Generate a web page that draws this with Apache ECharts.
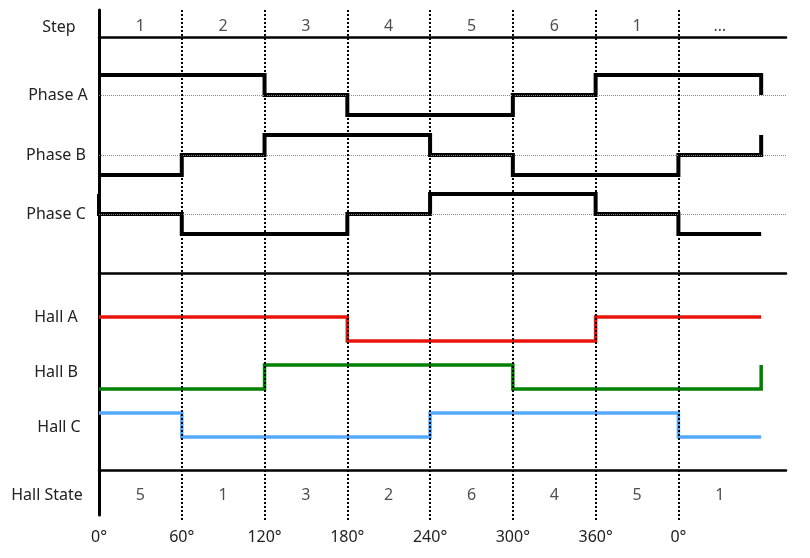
<!DOCTYPE html>
<html>
<head>
<meta charset="utf-8">
<script src="https://cdn.jsdelivr.net/npm/echarts@6/dist/echarts.min.js"></script>
<style>html,body{margin:0;padding:0;background:#fff}#c{width:810px;height:558px}</style>
</head>
<body>
<div id="c"></div>
<script>
// ---- data ----
const degrees = [0, 60, 120, 180, 240, 300, 360, 420, 480];
const tickLabels = ['0°', '60°', '120°', '180°', '240°', '300°', '360°', '0°', ''];
const steps = ['1', '2', '3', '4', '5', '6', '1', '…'];
const hallStates = ['5', '1', '3', '2', '6', '4', '5', '1'];
const rowLabels = ['Step', 'Phase A', 'Phase B', 'Phase C', 'Hall A', 'Hall B', 'Hall C', 'Hall State'];
const dividers = [60, 120, 180, 240, 300, 360, 420];
// level held from each boundary to the next; the last value is the level after the final edge
const phaseA = [1, 1, 0, -1, -1, 0, 1, 1, 0];
const phaseB = [-1, 0, 1, 1, 0, -1, -1, 0, 1];
const phaseCStart = 1;
const phaseC = [0, -1, -1, 0, 1, 1, 0, -1, -1];
const hallA = [1, 1, 1, 0, 0, 0, 1, 1, 1];
const hallB = [0, 0, 1, 1, 1, 0, 0, 0, 1];
const hallC = [1, 0, 0, 0, 1, 1, 1, 0, 0];

// ---- layout ----
const FONT = 'Noto Sans';
const FS = 16;
const XMAX = 498;
const L = 99, R = 24;
const grids = [
  { left: L, right: R, top: 10, bottom: 38 },      // 0 frame
  { left: L, right: R, top: 10, height: 27 },      // 1 step row
  { left: L, right: R, top: 37, height: 236 },     // 2 phase section
  { left: L, right: R, top: 273, height: 197 },    // 3 hall section
  { left: L, right: R, top: 470, height: 45 },     // 4 hall state row
  { left: L, right: R, top: 65, height: 60 },      // 5 phase A
  { left: L, right: R, top: 125, height: 60 },     // 6 phase B
  { left: L, right: R, top: 184, height: 60 },     // 7 phase C
  { left: L, right: R, top: 305, height: 48 },     // 8 hall A
  { left: L, right: R, top: 353, height: 48 },     // 9 hall B
  { left: L, right: R, top: 401, height: 48 }      // 10 hall C
];
const black = '#000';
const xAxes = grids.map((g, i) => ({
  type: 'value', gridIndex: i, min: 0, max: XMAX, interval: 60,
  show: true,
  axisLine: { show: i >= 1 && i <= 3, onZero: false, lineStyle: { color: black, width: 2.5 } },
  axisTick: { show: false },
  splitLine: { show: false },
  axisLabel: {
    show: i === 0, margin: 9, color: '#222', fontFamily: FONT, fontSize: FS,
    formatter: v => { const k = degrees.indexOf(v); return k >= 0 ? tickLabels[k] : ''; }
  }
}));
const yAxes = grids.map((g, i) => {
  let min = 0, max = 1;
  if (i >= 5 && i <= 7) { min = -1.5; max = 1.5; }
  if (i >= 8) { min = -0.5; max = 1.5; }
  return {
    type: 'value', gridIndex: i, min, max,
    show: i >= 1 && i <= 4,
    axisLine: { show: true, onZero: false, lineStyle: { color: black, width: 3 } },
    axisTick: { show: false }, axisLabel: { show: false }, splitLine: { show: false }
  };
});

function stepSeries(idx, levels, color, width, start) {
  const data = levels.map((v, i) => [degrees[i], v]);
  if (start !== undefined) data.unshift([degrees[0], start]);
  return {
    type: 'line', xAxisIndex: idx, yAxisIndex: idx, step: 'end', data,
    symbol: 'none', z: 3, animation: false,
    lineStyle: { color, width, cap: 'butt', join: 'miter' }
  };
}
function refLine(idx) {
  return {
    type: 'line', xAxisIndex: idx, yAxisIndex: idx, data: [], z: 1, silent: true,
    markLine: {
      symbol: 'none', silent: true, animation: false, label: { show: false },
      lineStyle: { color: '#888', width: 1, type: [1, 1] },
      data: [{ yAxis: 0 }]
    }
  };
}
function textRow(idx, labels, offsetY) {
  return {
    type: 'scatter', xAxisIndex: idx, yAxisIndex: idx, symbolSize: 1, animation: false,
    itemStyle: { color: 'transparent' }, silent: true,
    data: labels.map((s, i) => [(degrees[i] + degrees[i + 1]) / 2, 0.5]),
    label: {
      show: true, position: 'inside', offset: [0, offsetY],
      color: '#222', fontFamily: FONT, fontSize: FS,
      formatter: p => labels[p.dataIndex]
    }
  };
}

const rowLabelPos = [[59, 27], [58, 95], [56, 155], [56, 214], [56, 317], [56, 372], [59, 427], [47, 495]];

const option = {
  backgroundColor: '#fff',
  animation: false,
  grid: grids,
  xAxis: xAxes,
  yAxis: yAxes,
  graphic: rowLabels.map((t, i) => ({
    type: 'text', x: rowLabelPos[i][0], y: rowLabelPos[i][1], silent: true,
    style: { text: t, fill: '#222', font: FS + 'px "' + FONT + '"', align: 'center', verticalAlign: 'middle' }
  })),
  series: [
    textRow(1, steps, 3),
    textRow(4, hallStates, 2.5),
    refLine(5), refLine(6), refLine(7),
    stepSeries(5, phaseA, '#000', 4),
    stepSeries(6, phaseB, '#000', 4),
    stepSeries(7, phaseC, '#000', 4, phaseCStart),
    stepSeries(8, hallA, '#e8140a', 3.5),
    stepSeries(9, hallB, '#008000', 3.5),
    stepSeries(10, hallC, '#55aaff', 3.5),
    {
      type: 'line', xAxisIndex: 0, yAxisIndex: 0, data: [], z: 10, silent: true,
      markLine: {
        symbol: 'none', silent: true, animation: false, label: { show: false },
        lineStyle: { color: '#000', width: 2, type: [2, 2] },
        data: dividers.map(d => ({ xAxis: d }))
      }
    }
  ]
};
const chart = echarts.init(document.getElementById('c'), null, { renderer: 'canvas' });
chart.setOption(option);
</script>
</body>
</html>
